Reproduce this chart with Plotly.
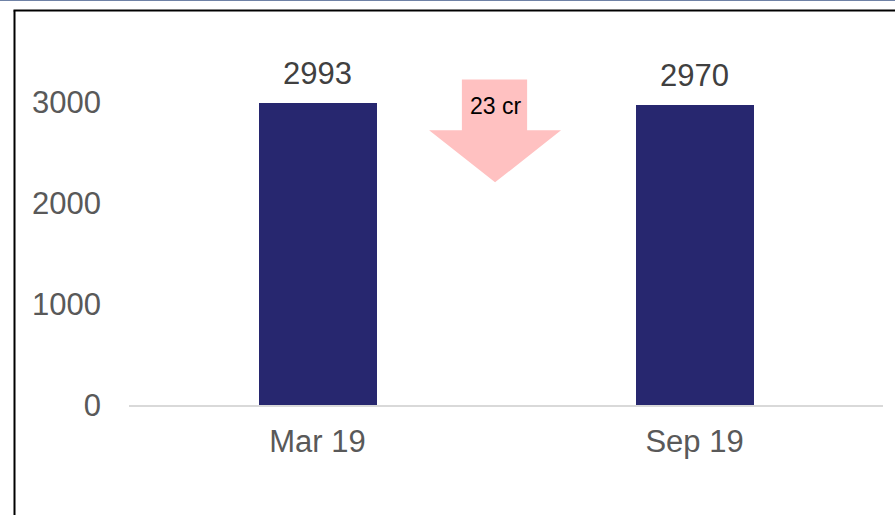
import plotly.graph_objects as go

categories = ["Mar 19", "Sep 19"]
values = [2993, 2970]
change_label = "23 cr"
tick_vals = [0, 1000, 2000, 3000]

W, H = 895, 515
L, R, T, B = 129, 12, 52, 110
pw, ph = W - L - R, H - T - B

def px_x(x):  # pixel -> paper
    return (x - L) / pw

def px_y(y):
    return (H - B - y) / ph

FONT = "Liberation Sans, Arial"

fig = go.Figure()
fig.add_trace(go.Bar(
    x=[0, 1], y=values, width=0.313,
    marker=dict(color="#27276F", line=dict(width=0)),
    hoverinfo="skip",
))
for i, v in enumerate(values):
    fig.add_annotation(x=i, y=v, xref="x", yref="y", text=str(v), showarrow=False,
                       yanchor="bottom", yshift=10,
                       font=dict(size=31, color="#404040", family=FONT))

# down arrow (data coordinates)
ax = [0.383, 0.556, 0.646, 0.471, 0.296]
ay = [3228, 2723, 2208]
path = (f"M{ax[0]},{ay[0]} L{ax[1]},{ay[0]} L{ax[1]},{ay[1]} L{ax[2]},{ay[1]} "
        f"L{ax[3]},{ay[2]} L{ax[4]},{ay[1]} L{ax[0]},{ay[1]} Z")
fig.add_shape(type="path", path=path, xref="x", yref="y",
              fillcolor="#FFC1C1", line=dict(width=0), layer="above")
fig.add_annotation(x=0.471, y=2960, xref="x", yref="y", text=change_label,
                   showarrow=False, font=dict(size=23, color="#000000", family=FONT))

# frame lines
fig.add_shape(type="line", xref="paper", yref="paper", x0=px_x(14.5), x1=px_x(14.5),
              y0=px_y(10.5), y1=px_y(600), line=dict(color="#000000", width=2))
fig.add_shape(type="line", xref="paper", yref="paper", x0=px_x(13.5), x1=px_x(900),
              y0=px_y(10.5), y1=px_y(10.5), line=dict(color="#000000", width=2))
fig.add_shape(type="line", xref="paper", yref="paper", x0=px_x(-5), x1=px_x(900),
              y0=px_y(0.5), y1=px_y(0.5), line=dict(color="#6F82A6", width=1))

fig.update_layout(
    width=W, height=H, margin=dict(l=L, r=R, t=T, b=B),
    paper_bgcolor="white", plot_bgcolor="white", showlegend=False,
    font=dict(family=FONT, size=31, color="#595959"),
    bargap=0,
)
fig.update_xaxes(range=[-0.5, 1.5], tickvals=[0, 1], ticktext=categories,
                 showgrid=False, zeroline=False, showline=True, linecolor="#D9D9D9",
                 linewidth=1.5, ticks="", ticklabelstandoff=8,
                 tickfont=dict(size=31, color="#595959"))
fig.update_yaxes(range=[0, 3500], tickvals=tick_vals, showgrid=False, zeroline=False,
                 showline=False, ticks="", ticklabelstandoff=27,
                 tickfont=dict(size=31, color="#595959"))

fig.write_html("out.html", config={"displayModeBar": False},
               post_script="document.body.style.margin='0';document.body.style.overflow='hidden';")
